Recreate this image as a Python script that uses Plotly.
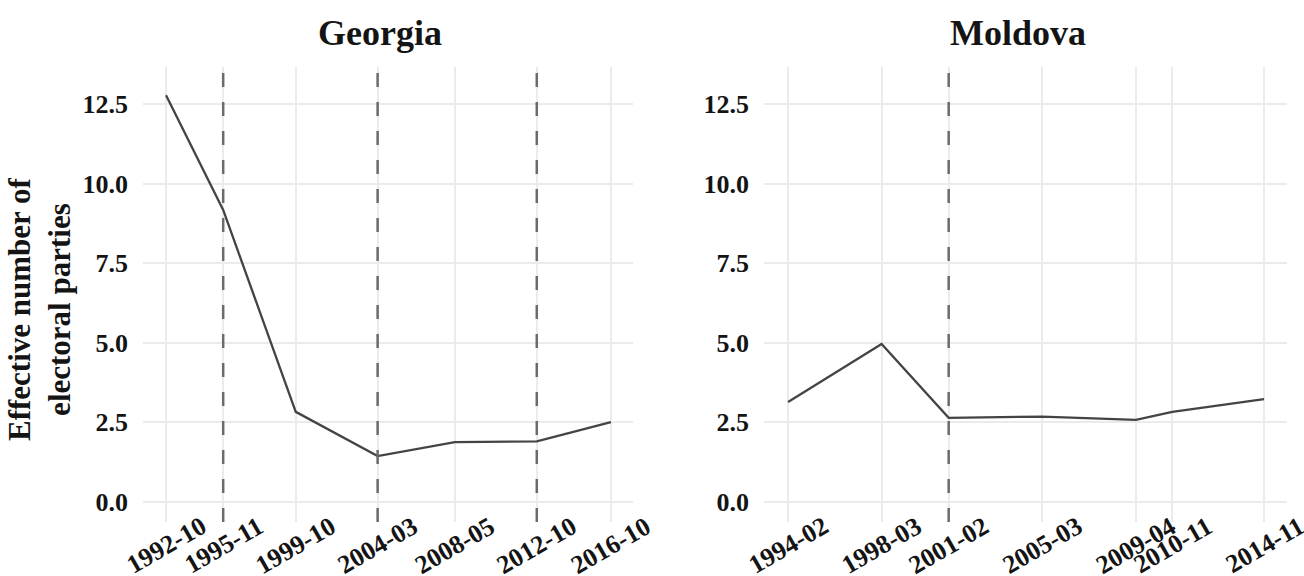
import plotly.graph_objects as go

W, H = 1304, 576

geo_dates = ["1992-10", "1995-11", "1999-10", "2004-03", "2008-05", "2012-10", "2016-10"]
geo_enep = [12.77, 9.17, 2.83, 1.44, 1.88, 1.90, 2.51]
geo_breaks = ["1995-11", "2004-03", "2012-10"]

mol_dates = ["1994-02", "1998-03", "2001-02", "2005-03", "2009-04", "2010-11", "2014-11"]
mol_enep = [3.14, 4.96, 2.64, 2.68, 2.58, 2.83, 3.23]
mol_breaks = ["2001-02"]

y_ticks = [0.0, 2.5, 5.0, 7.5, 10.0, 12.5]
y_tick_text = ["0.0", "2.5", "5.0", "7.5", "10.0", "12.5"]

FONT = "Liberation Serif"
LINE_COL = "#444444"
GRID_COL = "#ebebeb"
DASH_COL = "#6b6b6b"
TEXT_COL = "#141414"


def d(s):
    return s + "-01"


fig = go.Figure()
fig.add_trace(go.Scatter(x=[d(s) for s in geo_dates], y=geo_enep, mode="lines",
                         line=dict(color=LINE_COL, width=2.3), xaxis="x", yaxis="y",
                         showlegend=False))
fig.add_trace(go.Scatter(x=[d(s) for s in mol_dates], y=mol_enep, mode="lines",
                         line=dict(color=LINE_COL, width=2.3), xaxis="x2", yaxis="y2",
                         showlegend=False))

shapes = []
for b in geo_breaks:
    shapes.append(dict(type="line", xref="x", yref="y domain", x0=d(b), x1=d(b), y0=0, y1=1,
                       line=dict(color=DASH_COL, width=2.5, dash="14px,15px"), layer="above"))
for b in mol_breaks:
    shapes.append(dict(type="line", xref="x2", yref="y2 domain", x0=d(b), x1=d(b), y0=0, y1=1,
                       line=dict(color=DASH_COL, width=2.5, dash="14px,15px"), layer="above"))

ydom = [(576 - 522) / H, (576 - 67) / H]
yrange = [-0.63, 13.66]

tickfont = dict(family=FONT, size=26, color=TEXT_COL, weight="bold")


def xaxis(dom, dates, rng, anchor):
    return dict(domain=dom, type="date", range=rng, tickmode="array",
                tickvals=[d(s) for s in dates], ticktext=dates, showticklabels=False,
                showgrid=True, gridcolor=GRID_COL, gridwidth=2,
                zeroline=False, showline=False, ticks="", anchor=anchor,
                automargin=False)


def yaxis(anchor):
    return dict(domain=ydom, range=yrange, tickmode="array", tickvals=y_ticks,
                ticktext=y_tick_text, tickfont=tickfont, showgrid=True, gridcolor=GRID_COL,
                gridwidth=2, zeroline=False, showline=False, ticks="", anchor=anchor,
                automargin=False, ticklabelstandoff=14)


annotations = [
    dict(text="Georgia", x=380 / W, y=(H - 33) / H, xref="paper", yref="paper",
         showarrow=False, xanchor="center", yanchor="middle",
         font=dict(family=FONT, size=36, color=TEXT_COL, weight="bold")),
    dict(text="Moldova", x=1018 / W, y=(H - 33) / H, xref="paper", yref="paper",
         showarrow=False, xanchor="center", yanchor="middle",
         font=dict(family=FONT, size=36, color=TEXT_COL, weight="bold")),
    dict(text="Effective number of<br>electoral parties", x=40 / W, y=(H - 309) / H,
         xref="paper", yref="paper", showarrow=False, textangle=-90,
         xanchor="center", yanchor="middle",
         font=dict(family=FONT, size=31, color=TEXT_COL, weight="bold")),
]

label_y = (H - 545) / H
for xref, dates in (("x", geo_dates), ("x2", mol_dates)):
    for s in dates:
        annotations.append(dict(text=s, x=d(s), y=label_y, xref=xref, yref="paper",
                                showarrow=False, textangle=-30, xanchor="center",
                                yanchor="middle",
                                font=dict(family=FONT, size=26, color=TEXT_COL,
                                          weight="bold")))

fig.update_layout(
    width=W, height=H,
    margin=dict(l=0, r=0, t=0, b=0),
    paper_bgcolor="white", plot_bgcolor="white",
    xaxis=xaxis([143 / W, 633 / W], geo_dates, ["1991-07-05", "2017-12-10"], "y"),
    yaxis=yaxis("x"),
    xaxis2=xaxis([764 / W, 1287 / W], mol_dates, ["1993-01-14", "2015-11-01"], "y2"),
    yaxis2=yaxis("x2"),
    shapes=shapes,
    annotations=annotations,
)

fig.write_html("out.html")
